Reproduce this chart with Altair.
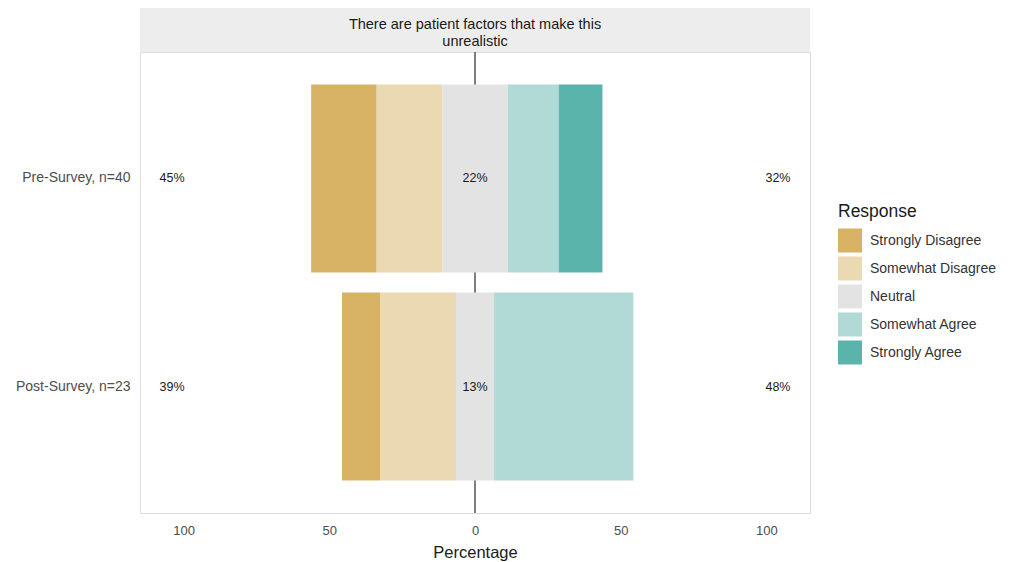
import altair as alt
import pandas as pd

groups = ["Pre-Survey, n=40", "Post-Survey, n=23"]
responses = ["Strongly Disagree", "Somewhat Disagree", "Neutral", "Somewhat Agree", "Strongly Agree"]
pre_pct = [22.5, 22.5, 22.5, 17.5, 15.0]
post_pct = [13.04, 26.09, 13.04, 47.83, 0.0]
colors = ["#D8B365", "#EAD9B1", "#E3E3E3", "#B1DAD7", "#5AB4AC"]
x_ticks = [-100, -50, 0, 50, 100]
label_x = [-104, 0, 104]
strip_title = ["There are patient factors that make this", "unrealistic"]

FONT = "Liberation Sans"

# build diverging segments
rows = []
labels = []
for g, vals in zip(groups, [pre_pct, post_pct]):
    nh = vals[2] / 2
    segs = {
        "Strongly Disagree": (-nh - vals[1] - vals[0], -nh - vals[1]),
        "Somewhat Disagree": (-nh - vals[1], -nh),
        "Neutral": (-nh, nh),
        "Somewhat Agree": (nh, nh + vals[3]),
        "Strongly Agree": (nh + vals[3], nh + vals[3] + vals[4]),
    }
    for r in responses:
        a, b = segs[r]
        if b - a > 0:
            rows.append({"group": g, "response": r, "start": a, "end": b,
                         "order": responses.index(r)})
    sums = [vals[0] + vals[1], vals[2], vals[3] + vals[4]]
    for lx, s in zip(label_x, sums):
        labels.append({"group": g, "x": lx, "text": f"{round(s)}%"})

bars_df = pd.DataFrame(rows)
labels_df = pd.DataFrame(labels)

W, H = 670, 461

x_scale = alt.Scale(domain=[-115, 115], nice=False, zero=False)
y_scale = alt.Scale(domain=groups, paddingInner=0.096, paddingOuter=0.156)

x_axis = alt.Axis(values=x_ticks, labelExpr="abs(datum.value)", title="Percentage",
                  grid=False, domain=False, ticks=False, tickSize=0, labelPadding=11,
                  labelFontSize=13, labelColor="#4D4D4D", labelFont=FONT,
                  titleFont=FONT, titleFontSize=16.5, titleFontWeight="normal",
                  titleColor="#1A1A1A", titlePadding=7)
y_axis = alt.Axis(title=None, grid=False, domain=False, ticks=False, tickSize=0,
                  labelPadding=10, labelFontSize=14, labelColor="#4D4D4D",
                  labelFont=FONT, minExtent=127, maxExtent=127)

one = pd.DataFrame({"k": [0]})

strip = alt.Chart(one).mark_rect(fill="#EDEDED").encode(
    x=alt.value(0), x2=alt.value(W), y=alt.value(-44), y2=alt.value(0)
)
strip_text = alt.Chart(one).mark_text(
    font=FONT, fontSize=14.5, color="#1A1A1A", baseline="middle", lineHeight=17
).encode(x=alt.value(W / 2), y=alt.value(-27), text=alt.value(strip_title))

zero_rule = alt.Chart(one).mark_rule(color="black", strokeWidth=1).encode(
    x=alt.datum(0, scale=x_scale, axis=x_axis)
)

bars = alt.Chart(bars_df).mark_bar().encode(
    x=alt.X("start:Q", scale=x_scale, axis=x_axis),
    x2="end:Q",
    y=alt.Y("group:N", scale=y_scale, axis=y_axis, sort=groups),
    color=alt.Color("response:N", scale=alt.Scale(domain=responses, range=colors),
                    legend=alt.Legend(title="Response", orient="none", legendX=698,
                                      legendY=151, symbolType="square", symbolSize=576,
                                      symbolStrokeWidth=0, symbolOpacity=1,
                                      titleFont=FONT, titleFontSize=17.5,
                                      titleFontWeight="normal", titleColor="#1A1A1A",
                                      titlePadding=8, labelFont=FONT, labelFontSize=14,
                                      labelColor="#333333", labelOffset=8,
                                      rowPadding=4)),
    order=alt.Order("order:Q"),
)

texts = alt.Chart(labels_df).mark_text(font=FONT, fontSize=12.5, color="#1A1A1A").encode(
    x=alt.X("x:Q", scale=x_scale, axis=x_axis),
    y=alt.Y("group:N", scale=y_scale, axis=y_axis, sort=groups),
    text="text:N",
)

chart = alt.layer(strip, strip_text, zero_rule, bars, texts).properties(
    width=W, height=H,
    padding={"left": 5, "top": 0, "right": 0, "bottom": 2},
).configure_view(stroke="#A8A8A8", strokeWidth=1.5).configure(background="white")

chart.save("out.html", embed_options={"renderer": "svg", "actions": False})
